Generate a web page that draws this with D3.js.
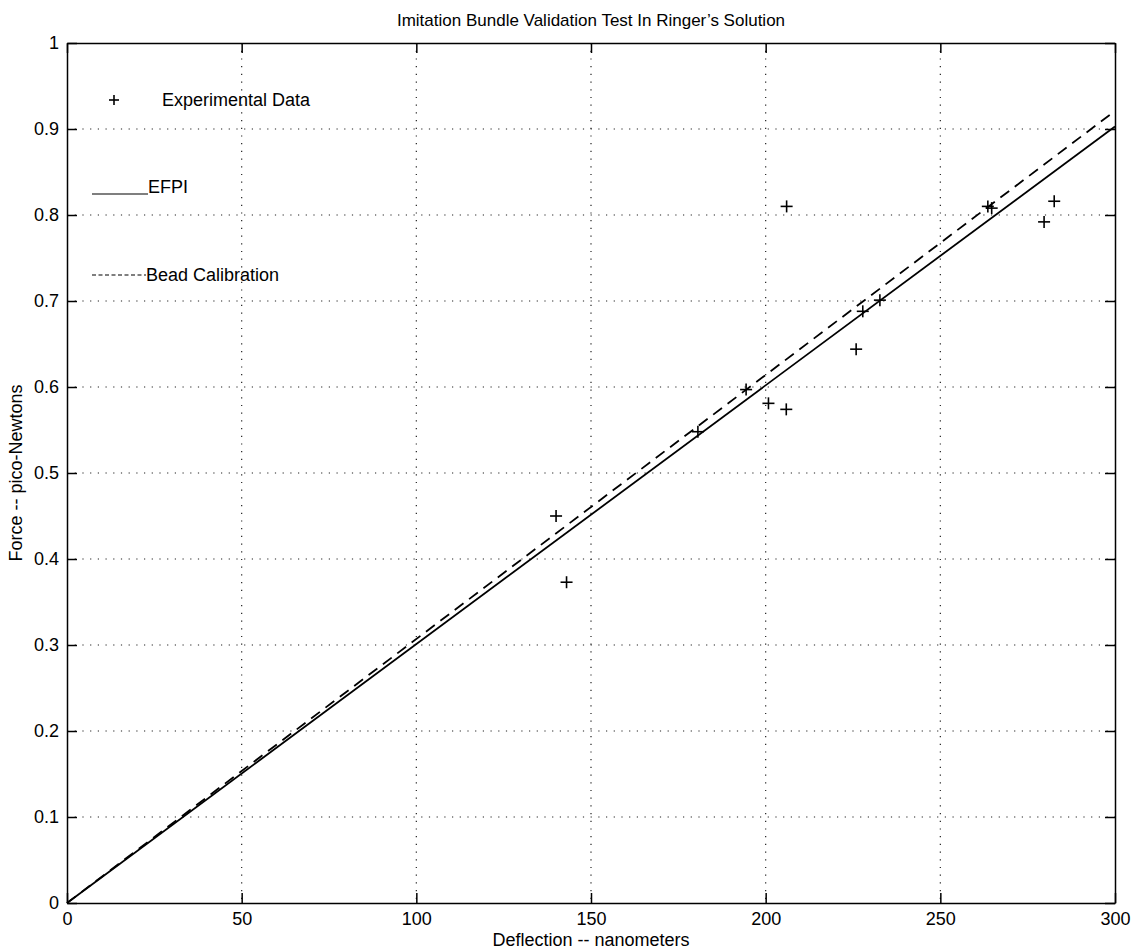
<!DOCTYPE html>
<html>
<head>
<meta charset="utf-8">
<script src="https://cdn.jsdelivr.net/npm/d3@7"></script>
<style>
  body { margin: 0; background: #fff; }
  text { font-family: "Liberation Sans", Arial, Helvetica, sans-serif; fill: #000; }
</style>
</head>
<body>
<svg id="chart"></svg>
<script>
// measured points
var deflection = [140, 143, 180.6, 194.4, 200.8, 205.9, 206, 225.9, 227.8, 232.7, 263.6, 264.7, 279.7, 282.6];
var force = [0.45, 0.373, 0.548, 0.597, 0.581, 0.574, 0.81, 0.644, 0.688, 0.701, 0.81, 0.808, 0.792, 0.816];

// fitted lines
var efpiX = [0, 300];
var efpiY = [0, 0.903];
var beadX = [0, 300];
var beadY = [0, 0.921];

var xTicks = [0, 50, 100, 150, 200, 250, 300];
var yTicks = [0, 0.1, 0.2, 0.3, 0.4, 0.5, 0.6, 0.7, 0.8, 0.9, 1];

var size = { width: 1135, height: 950, margin: { top: 43, right: 20, bottom: 47, left: 67 } };
var width = size.width - size.margin.left - size.margin.right;
var height = size.height - size.margin.top - size.margin.bottom;

var x = d3.scaleLinear().domain([0, 300]).range([0, width]);
var y = d3.scaleLinear().domain([0, 1]).range([height, 0]);

var svg = d3.select('#chart')
  .attr('width', size.width)
  .attr('height', size.height);

var chart = svg.append('g')
  .attr('transform', `translate(${ size.margin.left }, ${ size.margin.top })`);

// dotted grid
chart.selectAll('.gx').data(xTicks.slice(1, -1)).enter().append('line')
  .attr('x1', d => x(d)).attr('x2', d => x(d))
  .attr('y1', 0).attr('y2', height)
  .attr('stroke', '#222').attr('stroke-width', 1.2)
  .attr('stroke-dasharray', '1.2,6.5');
chart.selectAll('.gy').data(yTicks.slice(1, -1)).enter().append('line')
  .attr('x1', 0).attr('x2', width)
  .attr('y1', d => y(d)).attr('y2', d => y(d))
  .attr('stroke', '#222').attr('stroke-width', 1.2)
  .attr('stroke-dasharray', '1.2,6.5');

// axes, ticks pointing inward (matlab style)
var fmt = d => d3.format('~g')(d);
chart.append('g').attr('transform', `translate(0, ${ height })`)
  .call(d3.axisBottom(x).tickValues(xTicks).tickFormat(fmt).tickSizeInner(-10).tickSizeOuter(0).tickPadding(9));
chart.append('g')
  .call(d3.axisTop(x).tickValues(xTicks).tickFormat('').tickSizeInner(-10).tickSizeOuter(0));
chart.append('g')
  .call(d3.axisLeft(y).tickValues(yTicks).tickFormat(fmt).tickSizeInner(-10).tickSizeOuter(0).tickPadding(8));
chart.append('g').attr('transform', `translate(${ width }, 0)`)
  .call(d3.axisRight(y).tickValues(yTicks).tickFormat('').tickSizeInner(-10).tickSizeOuter(0));

chart.selectAll('.domain').attr('stroke', '#000').attr('stroke-width', 1.5);
chart.selectAll('.tick line').attr('stroke', '#000').attr('stroke-width', 1.5);
chart.selectAll('.tick text').style('font-size', '18px').attr('fill', '#000');

// lines
var line = d3.line().x(d => x(d[0])).y(d => y(d[1]));
chart.append('path')
  .datum(efpiX.map((v, i) => [v, efpiY[i]]))
  .attr('d', line).attr('fill', 'none')
  .attr('stroke', '#000').attr('stroke-width', 1.8);
chart.append('path')
  .datum(beadX.map((v, i) => [v, beadY[i]]))
  .attr('d', line).attr('fill', 'none')
  .attr('stroke', '#000').attr('stroke-width', 1.8)
  .attr('stroke-dasharray', '11,7');

// plus markers
var pts = chart.selectAll('.pt').data(deflection.map((v, i) => [v, force[i]])).enter().append('g')
  .attr('transform', d => `translate(${ x(d[0]) }, ${ y(d[1]) })`);
pts.append('line').attr('x1', -6).attr('x2', 6).attr('stroke', '#000').attr('stroke-width', 1.6);
pts.append('line').attr('y1', -6).attr('y2', 6).attr('stroke', '#000').attr('stroke-width', 1.6);

// legend
var lg = svg.append('g');
var lp = lg.append('g').attr('transform', 'translate(114, 100)');
lp.append('line').attr('x1', -5).attr('x2', 5).attr('stroke', '#000').attr('stroke-width', 1.6);
lp.append('line').attr('y1', -5).attr('y2', 5).attr('stroke', '#000').attr('stroke-width', 1.6);
lg.append('text').attr('x', 162).attr('y', 106).style('font-size', '18px').text('Experimental Data');

lg.append('line').attr('x1', 92).attr('x2', 148).attr('y1', 194).attr('y2', 194)
  .attr('stroke', '#000').attr('stroke-width', 1.2);
lg.append('text').attr('x', 148).attr('y', 193).style('font-size', '18px').text('EFPI');

lg.append('line').attr('x1', 92).attr('x2', 146).attr('y1', 275).attr('y2', 275)
  .attr('stroke', '#000').attr('stroke-width', 1.2).attr('stroke-dasharray', '4,2.5');
lg.append('text').attr('x', 146).attr('y', 281).style('font-size', '18px').text('Bead Calibration');

// titles
svg.append('text').attr('x', size.margin.left + width / 2).attr('y', 26)
  .attr('text-anchor', 'middle').style('font-size', '17px')
  .text('Imitation Bundle Validation Test In Ringer\u2019s Solution');
svg.append('text').attr('x', size.margin.left + width / 2).attr('y', 946)
  .attr('text-anchor', 'middle').style('font-size', '18px')
  .text('Deflection -- nanometers');
svg.append('text')
  .attr('transform', `translate(22, ${ size.margin.top + height / 2 }) rotate(-90)`)
  .attr('text-anchor', 'middle').style('font-size', '18px')
  .text('Force -- pico-Newtons');
</script>
</body>
</html>
